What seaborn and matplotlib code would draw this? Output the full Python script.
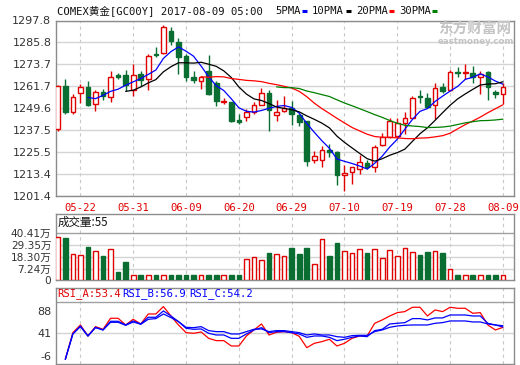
import numpy as np
import pandas as pd
import matplotlib
matplotlib.use("Agg")
import matplotlib.pyplot as plt
import seaborn as sns
from matplotlib.lines import Line2D

# ---------------- data ----------------
dates_idx = [3, 10, 17, 24, 31, 38, 45, 52, 59]
date_labels = ["05-22", "05-31", "06-09", "06-20", "06-29", "07-10", "07-19", "07-28", "08-09"]

opens = [1238.3, 1261.7, 1247.7, 1258.2, 1261.3, 1252.1, 1258.7, 1256.0, 1267.8, 1267.8,
         1259.7, 1268.3, 1265.9, 1279.6, 1279.9, 1292.3, 1285.8, 1278.3, 1266.9, 1264.6,
         1270.2, 1263.7, 1253.0, 1253.0, 1242.9, 1244.9, 1247.5, 1251.4, 1258.2, 1245.8,
         1248.1, 1249.9, 1245.8, 1242.5, 1221.0, 1221.3, 1226.9, 1225.4, 1212.9, 1214.5,
         1216.4, 1219.5, 1217.1, 1229.3, 1233.7, 1234.2, 1241.4, 1244.4, 1256.3, 1255.4,
         1251.2, 1261.0, 1259.5, 1269.3, 1269.1, 1268.7, 1267.0, 1269.3, 1258.7, 1257.6]
closes = [1261.9, 1247.3, 1256.0, 1261.0, 1251.4, 1258.7, 1256.3, 1267.0, 1267.0, 1262.2,
          1268.1, 1265.2, 1278.5, 1279.0, 1294.1, 1286.8, 1277.9, 1266.9, 1265.2, 1267.0,
          1257.3, 1253.6, 1253.6, 1242.5, 1242.3, 1247.7, 1251.4, 1258.0, 1248.4, 1247.7,
          1249.9, 1246.2, 1242.2, 1220.4, 1223.2, 1226.9, 1225.4, 1212.7, 1214.0, 1217.3,
          1220.0, 1217.1, 1228.3, 1233.7, 1242.5, 1241.3, 1244.4, 1255.4, 1255.8, 1250.3,
          1260.6, 1259.1, 1269.3, 1268.7, 1269.6, 1266.5, 1268.3, 1261.0, 1257.3, 1261.0]
highs = [1262.2, 1265.6, 1257.3, 1262.8, 1264.3, 1259.5, 1260.0, 1269.8, 1269.2, 1270.5,
         1273.9, 1269.8, 1279.4, 1283.1, 1295.6, 1294.5, 1288.2, 1279.4, 1269.8, 1267.4,
         1278.8, 1264.6, 1255.4, 1253.2, 1246.2, 1249.0, 1253.2, 1260.6, 1259.5, 1254.1,
         1256.4, 1253.6, 1246.2, 1242.5, 1226.3, 1228.7, 1230.2, 1226.0, 1218.6, 1217.5,
         1224.1, 1221.0, 1229.6, 1236.1, 1244.0, 1244.4, 1247.5, 1256.3, 1259.5, 1258.2,
         1263.7, 1263.7, 1270.5, 1272.0, 1273.9, 1272.6, 1270.2, 1270.2, 1259.5, 1263.7]
lows = [1237.0, 1246.4, 1246.4, 1252.7, 1250.8, 1248.1, 1254.0, 1253.0, 1265.4, 1259.1,
        1256.4, 1261.9, 1259.5, 1277.5, 1279.4, 1284.5, 1268.3, 1264.6, 1263.4, 1260.0,
        1257.0, 1250.8, 1251.7, 1242.3, 1240.7, 1242.5, 1246.6, 1251.2, 1237.0, 1242.5,
        1247.5, 1240.3, 1239.8, 1218.0, 1219.5, 1217.1, 1222.6, 1207.5, 1204.2, 1207.9,
        1213.4, 1216.4, 1214.5, 1228.7, 1233.3, 1233.7, 1235.2, 1244.0, 1252.7, 1249.9,
        1243.8, 1257.8, 1259.1, 1266.5, 1265.6, 1263.7, 1257.3, 1254.1, 1255.1, 1251.7]

# volume in 万 (as drawn)
volumes = [36.7, 36.0, 20.9, 20.0, 27.7, 23.7, 19.3, 25.5, 4.5, 13.7,
           1.4, 1.4, 1.4, 1.4, 1.4, 1.4, 1.4, 1.4, 1.4, 1.4,
           1.4, 1.4, 1.4, 1.4, 1.4, 16.2, 18.1, 15.6, 22.4, 21.2,
           19.3, 26.7, 21.5, 26.7, 11.9, 34.8, 19.3, 31.4, 24.0, 22.1,
           25.8, 22.4, 25.8, 17.5, 24.6, 19.3, 26.7, 23.0, 20.5, 23.0,
           24.0, 22.4, 7.0, 1.4, 1.4, 1.4, 1.4, 1.4, 1.4, 1.4]
vol_ticks = [7.24, 18.30, 29.35, 40.41]
vol_tick_labels = ["7.24万", "18.30万", "29.35万", "40.41万"]

nan = np.nan
rsi_a = [nan, -13.4, 42.4, 58.4, 35.4, 54.9, 49.4, 72.4, 72.4, 58.4,
         70.3, 60.5, 81.4, 81.4, 96.8, 77.2, 58.4, 42.4, 41.0, 43.8,
         30.5, 25.7, 25.7, 14.5, 14.5, 35.4, 48.0, 60.5, 37.5, 43.1,
         44.5, 42.4, 34.7, 11.0, 20.1, 23.6, 28.5, 14.5, 20.1, 30.5,
         35.4, 35.4, 61.9, 68.9, 77.2, 84.2, 86.3, 95.4, 95.4, 77.2,
         89.8, 86.3, 95.4, 93.3, 93.3, 82.8, 84.2, 58.4, 48.0, 53.4]
rsi_b = [nan, -13.4, 39.6, 56.3, 35.4, 53.5, 48.0, 66.1, 66.1, 58.4,
         66.8, 60.5, 74.5, 74.5, 87.7, 77.2, 65.4, 51.5, 49.4, 50.1,
         41.0, 37.5, 37.5, 30.5, 30.5, 39.6, 48.0, 52.8, 42.4, 44.5,
         44.5, 42.4, 39.6, 32.6, 35.4, 35.4, 32.6, 25.7, 28.5, 32.6,
         35.4, 34.0, 46.6, 49.4, 60.5, 61.9, 63.3, 71.7, 71.7, 68.9,
         73.1, 73.1, 79.3, 79.3, 79.3, 77.2, 77.2, 61.9, 58.4, 56.9]
rsi_c = [nan, -13.4, 39.6, 54.9, 35.4, 52.8, 48.0, 64.0, 64.0, 57.7,
         64.7, 59.8, 70.3, 71.7, 81.4, 73.8, 65.4, 53.5, 52.8, 54.9,
         46.6, 44.5, 44.5, 39.6, 39.6, 44.5, 49.4, 50.1, 44.5, 46.6,
         46.6, 44.5, 42.4, 37.5, 39.6, 37.5, 37.5, 34.0, 32.6, 36.1,
         36.8, 36.8, 44.5, 48.0, 53.5, 56.3, 57.7, 58.4, 58.4, 58.4,
         61.9, 63.3, 66.8, 66.8, 66.8, 64.7, 64.7, 60.5, 58.4, 54.2]
rsi_ticks = [-6, 41, 88]
price_ticks = [1201.4, 1213.4, 1225.5, 1237.5, 1249.6, 1261.7, 1273.7, 1285.8, 1297.8]

# ---------------- style ----------------
sns.set_style("white")
plt.rcParams["font.family"] = ["DejaVu Sans", "Noto Sans CJK SC"]
MONO = ["DejaVu Sans Mono", "Noto Sans CJK SC"]
RED = "#E00000"
GREEN = "#0A6E32"
GRID = "#D4D4D4"
FRAME = "#8C8C8C"

df = pd.DataFrame({"i": np.arange(len(closes)), "open": opens, "close": closes,
                   "high": highs, "low": lows, "vol": volumes,
                   "rsi_a": rsi_a, "rsi_b": rsi_b, "rsi_c": rsi_c})
for n in (5, 10, 20, 30):
    df[f"ma{n}"] = df["close"].rolling(n).mean()
up = df["close"] >= df["open"]
edge = np.where(up, RED, GREEN)
face = np.where(up, "white", GREEN)

fig = plt.figure(figsize=(5.2, 3.65), dpi=100)
L, W = 55.5 / 520, 458.0 / 520
def box(top, bot):
    return [L, 1 - bot / 365, W, (bot - top) / 365]
ax1 = fig.add_axes(box(20.5, 196))
ax2 = fig.add_axes(box(213.5, 280))
ax3 = fig.add_axes(box(287.5, 363.5))

for ax in (ax1, ax2, ax3):
    ax.set_xlim(-0.3, 60.4)
    for s in ax.spines.values():
        s.set_color(FRAME)
        s.set_linewidth(1)
    for p in dates_idx:
        ax.axvline(p, color="#C8C8C8", lw=0.8, ls=(0, (3, 3)), zorder=0)
    ax.tick_params(length=0)
    ax.set_xlabel("")
    ax.set_ylabel("")

# ---------------- main candle panel ----------------
ax1.set_ylim(1201.4, 1297.8)
ax1.set_yticks(price_ticks)
ax1.set_yticklabels([f"{v:.1f}" for v in price_ticks])
for v in price_ticks:
    ax1.axhline(v, color=GRID, lw=1, zorder=0)
ax1.tick_params(axis="y", labelsize=8, labelcolor="#333333", pad=3)
ax1.vlines(df["i"], df["low"], df["high"], colors=edge, lw=1, zorder=2)
body_bottom = np.minimum(df["open"], df["close"])
body_h = np.maximum((df["close"] - df["open"]).abs(), 0.25)
ax1.bar(df["i"], body_h, bottom=body_bottom, width=0.62, color=face,
        edgecolor=edge, linewidth=1, zorder=3)
for col, c in (("ma5", "#0000FF"), ("ma10", "#000000"), ("ma20", "#FF0000"), ("ma30", "#008000")):
    sns.lineplot(data=df, x="i", y=col, color=c, lw=0.9, ax=ax1, zorder=4, legend=False)
ax1.set_xlabel(""); ax1.set_ylabel("")
ax1.set_xticks(dates_idx)
ax1.set_xticklabels(date_labels)
ax1.tick_params(axis="x", labelsize=7.6, labelcolor=RED, pad=5)
for t in ax1.get_xticklabels():
    t.set_family(MONO)

# ---------------- volume panel ----------------
vfloor = -2.98
ax2.set_ylim(vfloor, 58.8)
ax2.bar(df["i"], df["vol"] - vfloor, bottom=vfloor, width=0.62, color=face,
        edgecolor=edge, linewidth=1, zorder=3)
for v in vol_ticks[:-1]:
    ax2.axhline(v, color=GRID, lw=1, zorder=0)
ax2.axhline(vol_ticks[-1], color="#A0A0A0", lw=1, zorder=1)
ax2.set_yticks([vfloor] + vol_ticks)
ax2.set_yticklabels(["0"] + vol_tick_labels)
ax2.tick_params(axis="y", labelsize=7.6, labelcolor="#333333", pad=3)
ax2.set_xticks([])
ax2.text(0.004, 0.86, "成交量:55", transform=ax2.transAxes, fontsize=8.3,
         family=["Noto Sans CJK SC", "DejaVu Sans"], va="center", ha="left", color="#111111")

# ---------------- RSI panel ----------------
ax3.set_ylim(-22.1, 136.7)
ax3.axhline(41, color=GRID, lw=1, zorder=0)
ax3.axhline(107, color="#A0A0A0", lw=1, zorder=1)
for col, c in (("rsi_a", "#FF0000"), ("rsi_b", "#0000FF"), ("rsi_c", "#0000FF")):
    sns.lineplot(data=df, x="i", y=col, color=c, lw=0.9, ax=ax3, zorder=4, legend=False)
ax3.set_xlabel(""); ax3.set_ylabel("")
ax3.set_xticks([])
ax3.set_yticks(rsi_ticks)
ax3.set_yticklabels([str(v) for v in rsi_ticks])
ax3.tick_params(axis="y", labelsize=8, labelcolor="#333333", pad=3)
for x, s, c in ((57, "RSI_A:53.4", RED), (122, "RSI_B:56.9", "#0000FF"), (189, "RSI_C:54.2", "#0000FF")):
    fig.text(x / 520, 1 - 294 / 365, s, color=c, fontsize=7.6, family=MONO, va="center", ha="left")

# ---------------- header ----------------
fig.text(57 / 520, 1 - 10.5 / 365, "COMEX黄金[GC00Y] 2017-08-09 05:00", fontsize=7.6,
         family=MONO, va="center", ha="left", color="#111111")
legend_items = [(275, "5PMA", 301.5, 306.5, "#0000FF"),
                (312, "10PMA", 345.5, 350.5, "#000000"),
                (356, "20PMA", 389.0, 394.0, "#FF0000"),
                (399.5, "30PMA", 432.0, 437.0, "#008000")]
for tx, s, x0, x1, c in legend_items:
    fig.text(tx / 520, 1 - 10.5 / 365, s, fontsize=7.6, family=MONO, va="center",
             ha="left", color="#111111")
    fig.add_artist(Line2D([x0 / 520, x1 / 520], [1 - 11 / 365, 1 - 11 / 365],
                          color=c, lw=2.2, solid_capstyle="butt"))

# watermark
fig.text(475 / 520, 1 - 29 / 365, "东方财富网", fontsize=10.5, weight="bold",
         family=["Noto Sans CJK SC"], color="#C4C4C4", ha="center", va="center", zorder=0)
fig.text(476 / 520, 1 - 41.5 / 365, "eastmoney.com", fontsize=6.2, weight="bold",
         color="#C4C4C4", ha="center", va="center", zorder=0)

fig.savefig("out.png", dpi=100)
